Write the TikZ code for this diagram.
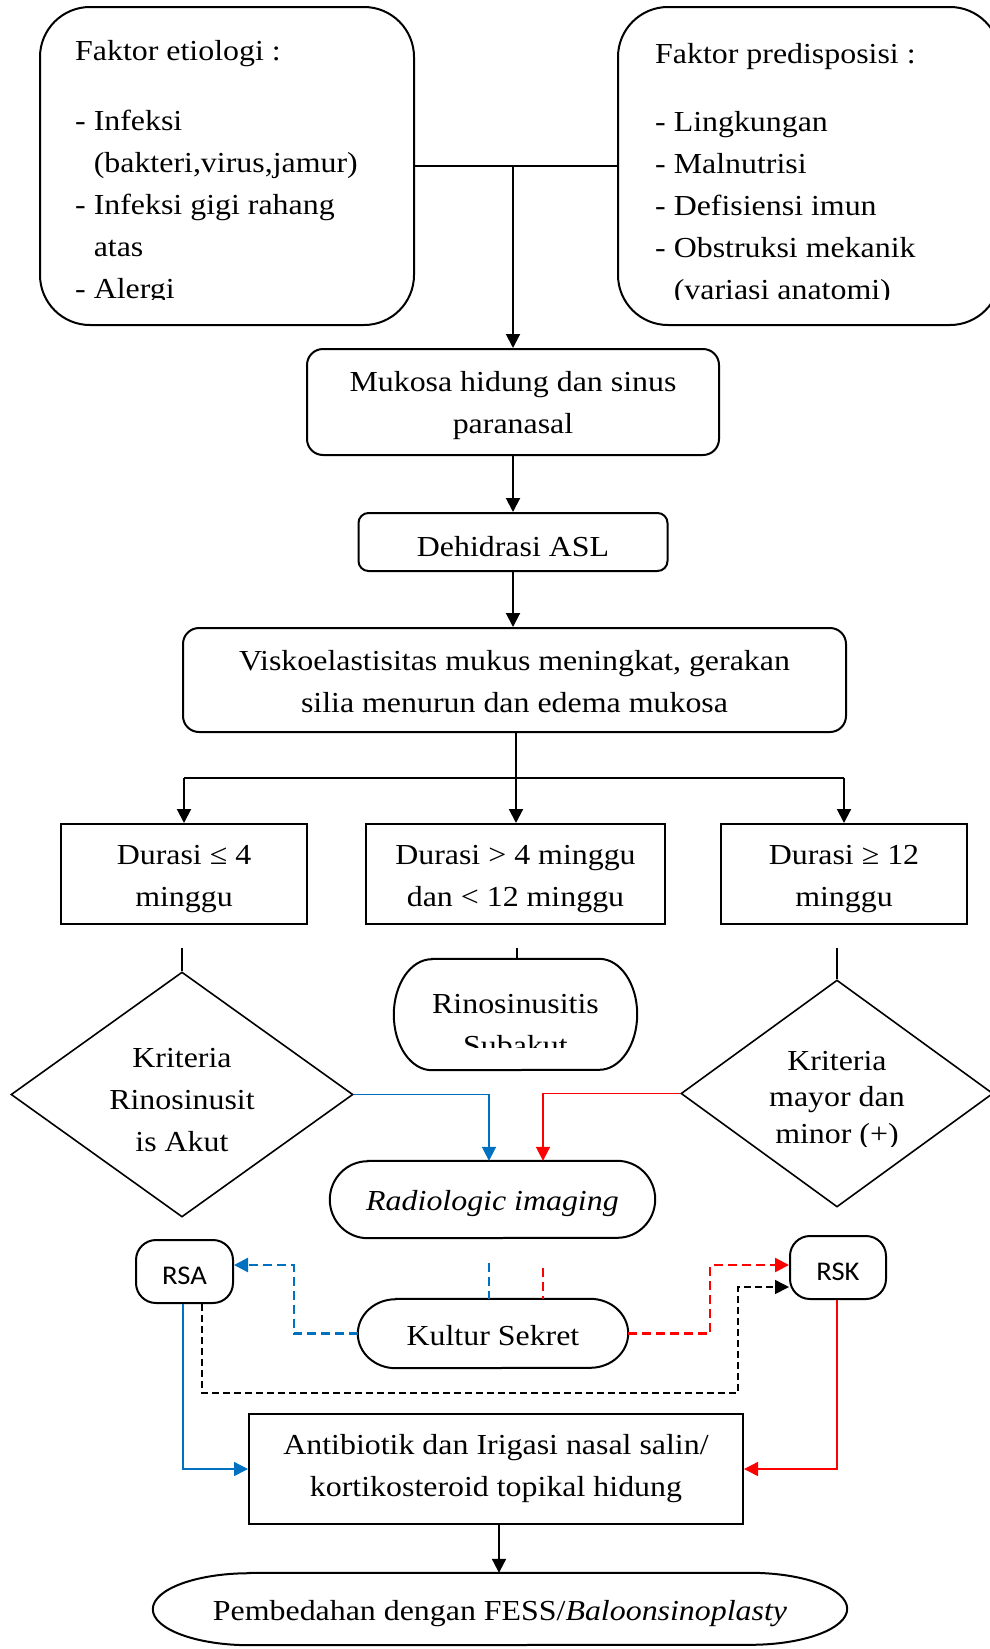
\documentclass[tikz,border=0pt]{standalone}
\usepackage{fontspec}
\setmainfont{Liberation Serif}[FakeStretch=1.1]
\newfontfamily\calib{Carlito}[FakeStretch=1.06]
\usetikzlibrary{arrows.meta,shapes.geometric,calc}
\definecolor{wblue}{RGB}{0,112,192}
\definecolor{wred}{RGB}{255,0,0}
\newcommand\mltext[2]{\begin{tabular}[t]{@{}#1@{}}#2\end{tabular}}
\newcommand\termshape[4][]{%
  \draw[#1] ([xshift=#3]#2.north west) -- ([xshift=-#3]#2.north east)
    arc[start angle=90,end angle=-90,x radius=#3,y radius=#4]
    -- ([xshift=#3]#2.south west)
    arc[start angle=270,end angle=90,x radius=#3,y radius=#4] -- cycle;}
\begin{document}
\begin{tikzpicture}[x=1pt,y=-1pt,font=\fontsize{29}{42}\selectfont,
  lw/.style={line width=2pt},
  rbox/.style={draw,line width=2pt,inner sep=0pt},
  tip/.style={-{Triangle[length=14pt,width=14pt]}},
  arr/.style={line width=2pt,tip},
  conn/.style={line width=2pt},
  txt/.style={inner sep=0pt,anchor=base},
  bconn/.style={wblue,line width=1.8pt},
  rconn/.style={wred,line width=1.8pt},
  dsh/.style={line width=2.3pt,dash pattern=on 9pt off 5pt},
  kdsh/.style={black,line width=1.6pt,dash pattern=on 7pt off 4pt},
  dia/.style={diamond,draw,line width=1.6pt,inner sep=0pt}]
\useasboundingbox (0,0) rectangle (990,1649);
\fill[white] (0,0) rectangle (990,1649);

% top boxes
\node[rbox,rounded corners=50pt,minimum width=374pt,minimum height=318pt] (etio) at (227,166) {};
\node[rbox,rounded corners=50pt,minimum width=382pt,minimum height=318pt] (pred) at (809,166) {};
\node[txt,anchor=base west] (etiot) at (75,60) {Faktor etiologi :};
\begin{scope}
\clip (40,0) rectangle (414,299);
\node[txt,anchor=base west] (etiol) at (75,130) {\mltext{l}{- Infeksi\\\phantom{- }(bakteri,virus,jamur)\\- Infeksi gigi rahang\\\phantom{- }atas\\- Alergi}};
\end{scope}
\node[txt,anchor=base west] (predt) at (655,63) {Faktor predisposisi :};
\begin{scope}
\clip (618,0) rectangle (1000,299);
\node[txt,anchor=base west] (predl) at (655,131) {\mltext{l}{- Lingkungan\\- Malnutrisi\\- Defisiensi imun\\- Obstruksi mekanik\\\phantom{- }(variasi anatomi)}};
\end{scope}

% chain
\node[rbox,rounded corners=16pt,minimum width=412pt,minimum height=106pt] (muk) at (513,402) {};
\node[txt] (mukt) at (513,391) {\mltext{c}{Mukosa hidung dan sinus\\paranasal}};
\node[rbox,rounded corners=10pt,minimum width=309pt,minimum height=58pt] (deh) at (513,542) {};
\node[txt] (deht) at (513,556) {Dehidrasi ASL};
\node[rbox,rounded corners=16pt,minimum width=663pt,minimum height=104pt] (vis) at (514.5,680) {};
\node[txt] (vist) at (514.5,670) {\mltext{c}{Viskoelastisitas mukus meningkat, gerakan\\silia menurun dan edema mukosa}};

\coordinate (j) at (513,166);
\draw[conn] (etio.east) -- (pred.west);
\draw[arr] (j) -- (muk.north);
\draw[arr] (muk.south) -- (muk.south |- deh.north);
\draw[arr] (deh.south) -- (deh.south |- vis.north);

% durasi
\node[rbox,minimum width=246pt,minimum height=100pt] (d1) at (184,874) {};
\node[txt] (d1t) at (184,864) {\mltext{c}{Durasi ≤ 4\\minggu}};
\node[rbox,minimum width=299pt,minimum height=100pt] (d2) at (515.5,874) {};
\node[txt] (d2t) at (515.5,864) {\mltext{c}{Durasi > 4 minggu\\dan < 12 minggu}};
\node[rbox,minimum width=246pt,minimum height=100pt] (d3) at (844,874) {};
\node[txt] (d3t) at (844,864) {\mltext{c}{Durasi ≥ 12\\minggu}};

\coordinate (br) at (516,778);
\draw[conn] (vis.south -| br) -- (br);
\draw[conn] (d1.north |- br) -- (d3.north |- br);
\draw[arr] (d1.north |- br) -- (d1.north);
\draw[arr] (br) -- (br |- d2.north);
\draw[arr] (d3.north |- br) -- (d3.north);

% diamonds and subakut
\node[dia,minimum width=342pt,minimum height=245pt] (dia1) at (182,1094.5) {};
\node[txt] (dia1t) at (182,1067) {\mltext{c}{Kriteria\\Rinosinusit\\is Akut}};
\node[dia,minimum width=312pt,minimum height=227pt] (dia2) at (837,1093.5) {};
\begin{scope}
\clip (681,980) rectangle (993,1146);
\node[txt] (dia2t) at (837,1070) {\fontsize{29}{36.5}\selectfont\mltext{c}{Kriteria\\mayor dan\\minor (+)}};
\end{scope}
\node[inner sep=0pt,minimum width=243pt,minimum height=111pt] (sub) at (515.5,1014.5) {};
\termshape[lw]{sub}{38pt}{55.5pt}
\begin{scope}
\clip (394,959) rectangle (637,1047);
\node[txt] (subt) at (515.5,1013) {\mltext{c}{Rinosinusitis\\Subakut}};
\end{scope}
\coordinate (g1) at (182,948);
\coordinate (g2) at (517,948);
\coordinate (g3) at (837,948);
\draw[conn] (g1) -- (dia1.north);
\draw[conn] (g2) -- (g2 |- sub.north);
\draw[conn] (g3) -- (dia2.north);

% radiologic
\node[inner sep=0pt,minimum width=325pt,minimum height=77pt] (radio) at (492.5,1199.5) {};
\termshape[lw]{radio}{38pt}{38.5pt}
\node[txt] (radiot) at (492.5,1210) {\itshape Radiologic imaging};
\draw[bconn,tip] (dia1.east) -| ([xshift=-3.5pt]radio.north);
\draw[rconn,tip] (dia2.west) -| ([xshift=50.5pt]radio.north);

% RSA, RSK, kultur
\node[rbox,rounded corners=20pt,minimum width=97pt,minimum height=63pt] (rsa) at (184.5,1271.5) {};
\node[txt] (rsat) at (184.5,1284) {\calib\fontsize{27}{30}\selectfont RSA};
\node[rbox,rounded corners=20pt,minimum width=96pt,minimum height=63pt] (rsk) at (838,1267.5) {};
\node[txt] (rskt) at (838,1280) {\calib\fontsize{27}{30}\selectfont RSK};
\node[inner sep=0pt,minimum width=270pt,minimum height=69pt] (kul) at (493,1333.5) {};
\termshape[lw]{kul}{38pt}{34.5pt}
\node[txt] (kult) at (493,1345) {Kultur Sekret};

\coordinate (bv) at (489,1263);
\coordinate (rv) at (543,1268);
\draw[bconn,dsh] (bv) -- (bv |- kul.north);
\draw[rconn,dsh] (rv) -- (rv |- kul.north);
\draw[bconn,dsh,tip] (kul.west) -- ++(-64,0) |- ([yshift=6.5pt]rsa.east);
\draw[rconn,dsh,tip] (kul.east) -- ++(82,0) |- ([yshift=2.5pt]rsk.west);
\coordinate (bk) at (738,1393);
\draw[kdsh,tip] ([xshift=17.5pt]rsa.south) |- (bk) |- ([yshift=-19.5pt]rsk.west);

% antibiotik
\node[rbox,minimum width=494pt,minimum height=110pt] (ant) at (496,1469) {};
\node[txt] (antt) at (496,1454) {\mltext{c}{Antibiotik dan Irigasi nasal salin/\\kortikosteroid topikal hidung}};
\draw[wblue,line width=1.5pt,tip] ([xshift=-1.5pt]rsa.south) |- (ant.west);
\draw[wred,line width=1.5pt,tip] ([xshift=-1pt]rsk.south) |- (ant.east);

% pembedahan
\node[inner sep=0pt,minimum width=694pt,minimum height=72pt] (pemb) at (500,1609) {};
\termshape[lw]{pemb}{97pt}{36pt}
\node[txt] (pembt) at (500,1620) {Pembedahan dengan FESS/\textit{Baloonsinoplasty}};
\draw[arr] ([xshift=3pt]ant.south) -- ([xshift=-1pt]pemb.north);
\end{tikzpicture}
\end{document}
